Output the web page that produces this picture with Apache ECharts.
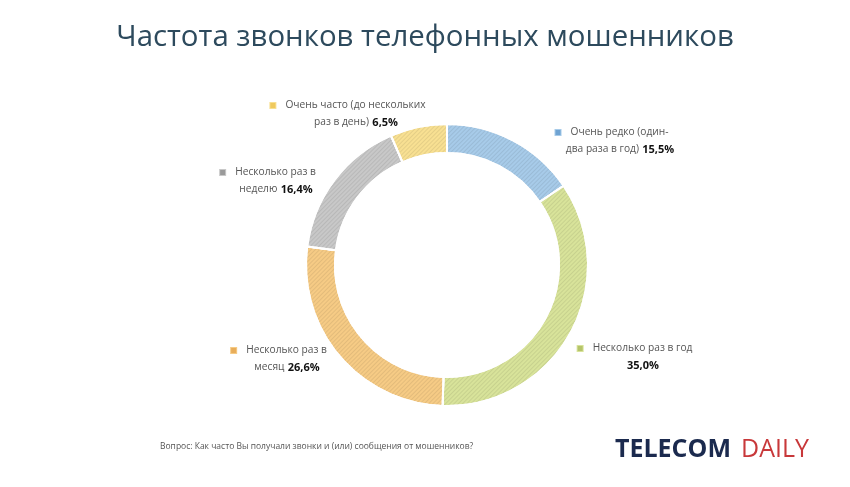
<!DOCTYPE html>
<html>
<head>
<meta charset="utf-8">
<script src="https://cdn.jsdelivr.net/npm/echarts@6/dist/echarts.min.js"></script>
<style>
  html, body { margin: 0; padding: 0; background: #fff; }
  #chart { width: 850px; height: 487px; }
</style>
</head>
<body>
<div id="chart"></div>
<script>
// answers, in clockwise order from 12 o'clock
const categories = [
  "Очень редко (один-\nдва раза в год)",
  "Несколько раз в год",
  "Несколько раз в\nмесяц",
  "Несколько раз в\nнеделю",
  "Очень часто (до нескольких\nраз в день)"
];
const shares = [15.5, 35.0, 26.6, 16.4, 6.5];

const colors = ["#a7cbe9", "#d8e39a", "#f6cb85", "#c8c8c8", "#f8e092"];
const markColors = ["#6fa3d2", "#b5c46a", "#e8ad5a", "#9a9a9a", "#efc95e"];
// label block centres
const labelPos = [[620, 141], [643, 357], [287, 359], [276, 181], [356, 114]];

const fmt = v => v.toFixed(1).replace(".", ",") + "%";

const chart = echarts.init(document.getElementById("chart"));

const data = categories.map((name, i) => {
  const lines = name.split("\n");
  let text;
  if (lines.length > 1) {
    text = "{sq|}   {t|" + lines[0] + "}{sp|}\n{t|" + lines[1] + "} {v|" + fmt(shares[i]) + "}";
  } else {
    text = "{sq|}   {t|" + lines[0] + "}{sp|}\n{v|" + fmt(shares[i]) + "}";
  }
  return {
    name: name,
    value: shares[i],
    itemStyle: { color: colors[i] },
    label: {
      formatter: text,
      rich: {
        sq: { width: 5, height: 5, backgroundColor: markColors[i], borderColor: colors[i], borderWidth: 1 },
        sp: { width: 16 },
        t: { fontSize: 10.2, color: "#555", fontFamily: "Open Sans", lineHeight: 17 },
        v: { fontSize: 11, color: "#111", fontWeight: "bold", fontFamily: "Open Sans", lineHeight: 17 }
      }
    }
  };
});

const option = {
  backgroundColor: "#fff",
  animation: false,
  title: {
    text: "Частота звонков телефонных мошенников",
    left: "center",
    top: 18,
    textStyle: {
      fontFamily: "Open Sans",
      fontSize: 29.4,
      fontWeight: "normal",
      color: "#2d4a5d"
    }
  },
  series: [
    {
      type: "pie",
      center: [447, 265],
      radius: [112, 141],
      startAngle: 90,
      clockwise: true,
      itemStyle: {
        borderColor: "#fff",
        borderWidth: 2,
        decal: {
          symbol: "rect",
          symbolSize: 1,
          dashArrayX: [1, 0],
          dashArrayY: [1, 2],
          rotation: -Math.PI / 4,
          color: "rgba(0,0,0,0.08)"
        }
      },
      label: {
        show: true,
        position: "outside",
        align: "center"
      },
      labelLine: { show: false },
      labelLayout: function (params) {
        const p = labelPos[params.dataIndex];
        return { x: p[0], y: p[1], align: "center", verticalAlign: "middle" };
      },
      emphasis: { disabled: true },
      data: data
    }
  ],
  graphic: [
    {
      type: "text",
      left: 160,
      top: 442,
      style: {
        text: "Вопрос: Как часто Вы получали звонки и (или) сообщения от мошенников?",
        fontFamily: "Open Sans",
        fontSize: 8.5,
        fill: "#555"
      }
    },
    {
      type: "text",
      left: 615,
      top: 437,
      style: {
        text: "{a|TELECOM}{b|DAILY}",
        rich: {
          a: { fontFamily: "Open Sans", fontSize: 25, fontWeight: "bold", fill: "#1b2a4e" },
          b: { fontFamily: "Open Sans", fontSize: 25, fontWeight: "normal", fill: "#c8383a", padding: [0, 0, 0, 10] }
        }
      }
    }
  ]
};

chart.setOption(option);
</script>
</body>
</html>
